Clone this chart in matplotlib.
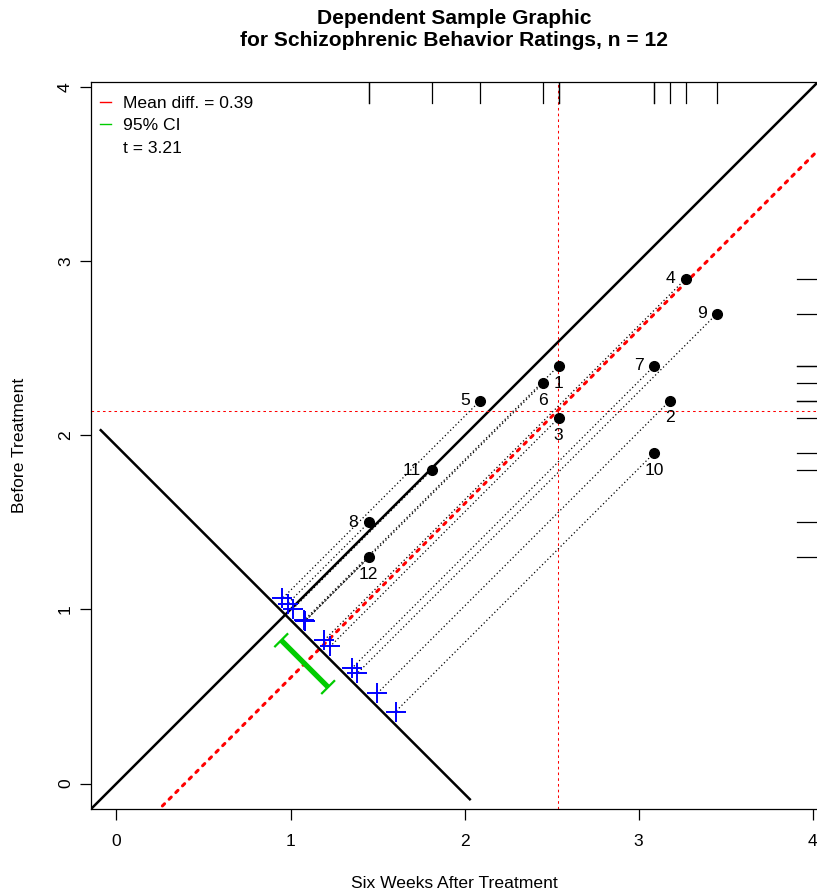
import numpy as np
import matplotlib.pyplot as plt
from matplotlib.lines import Line2D

plt.rcParams['font.family'] = ['Liberation Sans', 'DejaVu Sans']

# schizophrenic behaviour ratings, 12 patients
ids = ['1', '2', '3', '4', '5', '6', '7', '8', '9', '10', '11', '12']
before = [2.4, 2.2, 2.1, 2.9, 2.2, 2.3, 2.4, 1.5, 2.7, 1.9, 1.8, 1.3]
after6 = [2.54, 3.18, 2.54, 3.27, 2.09, 2.45, 3.09, 1.45, 3.45, 3.09, 1.81, 1.45]
# where each id label sits relative to its point
label_side = ['below', 'below', 'below', 'left', 'left', 'below',
              'left', 'left', 'left', 'below', 'left', 'below']

t_crit = 2.201  # t(0.975, df = 11)

# layout constants (data units)
LIM = (-0.146, 4.03)
ANTI = 1.94        # x + y of the anti-diagonal
ANTI_LO = -0.09    # where the anti-diagonal starts / stops
CROSS_UP = 0.077   # crosses sit a bit above the anti-diagonal
CI_DOWN = 0.17     # CI bar sits below it
RUG = 0.12

x = np.array(after6)
y = np.array(before)
d = x - y
n = len(d)
md = d.mean()
se = d.std(ddof=1) / np.sqrt(n)
ci = (md - t_crit * se, md + t_crit * se)

fig = plt.figure(figsize=(8.17, 8.92), dpi=100)
ax = fig.add_axes([91 / 817, 83 / 892, 727 / 817, 727 / 892])
ax.set_xlim(*LIM)
ax.set_ylim(*LIM)

# identity and mean difference lines
big = np.array([-1.0, 5.0])
ax.plot(big, big, color='black', lw=1.8)
ax.plot(big, big - md, color='red', lw=2.2, dashes=(1.0, 2.1),
        dash_capstyle='round')

# anti-diagonal
ax.plot([ANTI_LO, ANTI - ANTI_LO], [ANTI - ANTI_LO, ANTI_LO], color='black', lw=1.8)

# mean lines
ax.axvline(x.mean(), color='red', lw=0.75, dashes=(2.5, 3))
ax.axhline(y.mean(), color='red', lw=0.75, dashes=(2.5, 3))

# projections
cs = ANTI + CROSS_UP
px = (cs + d) / 2
py = (cs - d) / 2
for i in range(n):
    ax.plot([x[i], px[i]], [y[i], py[i]], color='black', lw=0.9, dashes=(1, 2))
ax.plot(px, py, ls='none', marker='+', color='blue', ms=14, mew=1.4)

# confidence interval bar
cc = ANTI - CI_DOWN
lo = np.array([(cc + ci[0]) / 2, (cc - ci[0]) / 2])
hi = np.array([(cc + ci[1]) / 2, (cc - ci[1]) / 2])
ax.plot([lo[0], hi[0]], [lo[1], hi[1]], color='#00cc00', lw=3.8, solid_capstyle='butt')
cap = 0.035
for e in (lo, hi):
    ax.plot([e[0] - cap, e[0] + cap], [e[1] - cap, e[1] + cap], color='#00cc00', lw=1.6)

# points and labels
ax.plot(x, y, ls='none', marker='o', color='black', ms=7)
for i in range(n):
    if label_side[i] == 'below':
        ax.annotate(ids[i], (x[i], y[i]), xytext=(0, -12.5), textcoords='offset points',
                    ha='center', va='center', fontsize=12.6)
    else:
        ax.annotate(ids[i], (x[i], y[i]), xytext=(-7.5, 0), textcoords='offset points',
                    ha='right', va='center', fontsize=12.6)

# rugs
for v in x:
    ax.plot([v, v], [LIM[1], LIM[1] - RUG], color='black', lw=0.9)
for v in y:
    ax.plot([LIM[1], LIM[1] - RUG], [v, v], color='black', lw=0.9)

# legend
handles = [Line2D([], [], color='red', lw=1),
           Line2D([], [], color='#00cc00', lw=1),
           Line2D([], [], color='none')]
labels = ['Mean diff. = 0.39', '95% CI', 't = 3.21']
ax.legend(handles, labels, loc='upper left', bbox_to_anchor=(9 / 727, 1 - 14 / 727),
          frameon=False, fontsize=12.6, handlelength=0.63, handletextpad=0.69,
          labelspacing=0.4, borderaxespad=0, borderpad=0)

ax.set_xticks([0, 1, 2, 3, 4])
ax.set_yticks([0, 1, 2, 3, 4])
ax.tick_params(axis='both', direction='out', length=8, width=0.9, labelsize=12.6)
ax.tick_params(axis='x', pad=10)
ax.tick_params(axis='y', pad=5, labelrotation=90)
for lab in ax.get_yticklabels():
    lab.set_va('center')
for sp in ax.spines.values():
    sp.set_linewidth(0.9)

ax.set_xlabel('Six Weeks After Treatment', fontsize=12.6, va='center')
ax.xaxis.set_label_coords(0.5, -0.1018)
ax.set_ylabel('Before Treatment', fontsize=12.6, va='center')
ax.yaxis.set_label_coords(-0.098, 0.5007)

cx = (91 + 818) / 2 / 817
fig.text(cx, 1 - 18 / 892, 'Dependent Sample Graphic', ha='center', va='center',
         fontsize=15.1, fontweight='bold')
fig.text(cx, 1 - 40 / 892, 'for Schizophrenic Behavior Ratings, n = 12', ha='center',
         va='center', fontsize=15.1, fontweight='bold')

fig.savefig('out.png', dpi=100)
